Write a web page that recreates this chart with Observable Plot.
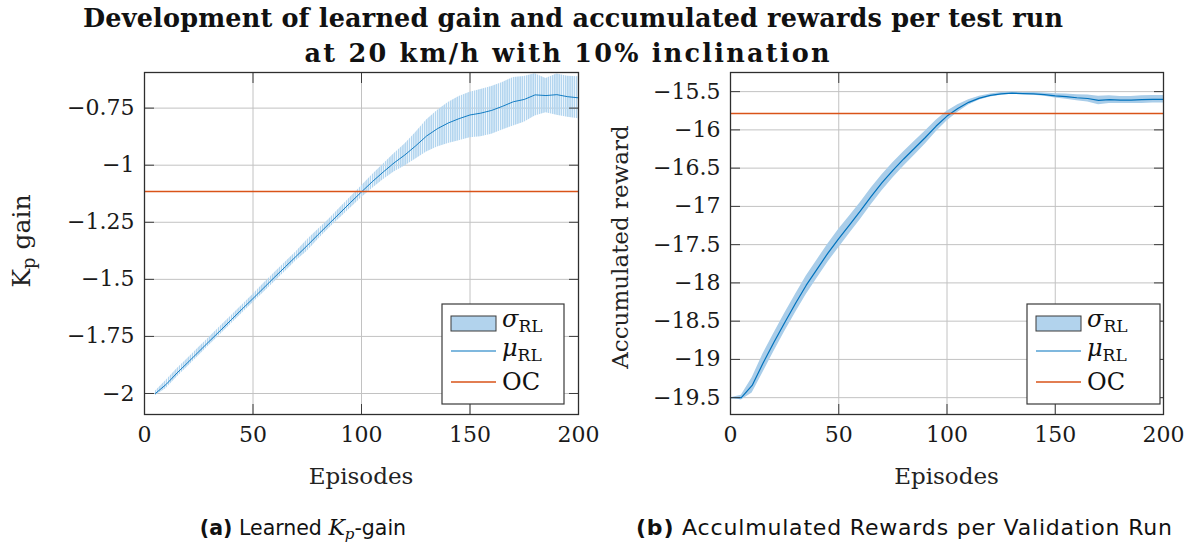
<!DOCTYPE html>
<html>
<head>
<meta charset="utf-8">
<script src="https://cdn.jsdelivr.net/npm/d3@7"></script>
<script src="https://cdn.jsdelivr.net/npm/@observablehq/plot@0.6"></script>
<style>
  html, body { margin: 0; padding: 0; background: #fff; }
  #wrap { position: relative; width: 1195px; height: 550px; background: #fff; overflow: hidden; }
  #pa, #pb, #text { position: absolute; top: 0; }
  #pa { left: 0; }
  #pb { left: 595px; }
  #text { left: 0; pointer-events: none; }
</style>
</head>
<body>
<div id="wrap">
  <div id="pa"></div>
  <div id="pb"></div>
  <svg id="text" width="1195" height="550"></svg>
</div>
<script>
// ---- data -------------------------------------------------------------
const xTicks = [0, 50, 100, 150, 200];

// (a) learned Kp gain per episode: mean and standard deviation over runs
const kpEpisodes = [5, 10, 15, 20, 25, 30, 35, 40, 45, 50, 55, 60, 65, 70, 75, 80, 85, 90, 95, 100,
  105, 110, 115, 120, 125, 130, 135, 140, 145, 150, 155, 160, 165, 170, 175, 180, 185, 190, 195, 200];
const kpMean = [-2.0, -1.96, -1.91, -1.864, -1.817, -1.77, -1.724, -1.677, -1.63, -1.584,
  -1.537, -1.49, -1.444, -1.398, -1.352, -1.304, -1.257, -1.21, -1.163, -1.117,
  -1.072, -1.03, -0.99, -0.955, -0.915, -0.872, -0.84, -0.815, -0.796, -0.78,
  -0.772, -0.76, -0.742, -0.722, -0.712, -0.692, -0.695, -0.691, -0.7, -0.705];
const kpStd = [0.01, 0.018, 0.018, 0.018, 0.018, 0.018, 0.018, 0.018, 0.018, 0.018,
  0.02, 0.02, 0.02, 0.02, 0.025, 0.022, 0.02, 0.022, 0.024, 0.026,
  0.03, 0.034, 0.04, 0.048, 0.058, 0.07, 0.08, 0.09, 0.097, 0.1,
  0.103, 0.105, 0.104, 0.106, 0.1, 0.092, 0.075, 0.09, 0.09, 0.092];
const kpOC = -1.115;
const kpTicks = [-2, -1.75, -1.5, -1.25, -1, -0.75];

// (b) accumulated reward per validation run
const rwEpisodes = [0, 5, 10, 15, 20, 25, 30, 35, 40, 45, 50, 55, 60, 65, 70, 75, 80, 85, 90, 95, 100,
  105, 110, 115, 120, 125, 130, 135, 140, 145, 150, 155, 160, 165, 170, 175, 180, 185, 190, 195, 200];
const rwMean = [-19.5, -19.5, -19.34, -19.05, -18.78, -18.52, -18.27, -18.03, -17.82, -17.61, -17.42,
  -17.24, -17.06, -16.87, -16.69, -16.53, -16.38, -16.24, -16.1, -15.95, -15.82,
  -15.72, -15.64, -15.585, -15.55, -15.53, -15.52, -15.525, -15.53, -15.54, -15.555,
  -15.565, -15.58, -15.59, -15.615, -15.605, -15.61, -15.61, -15.605, -15.6, -15.6];
const rwStd = [0, 0.03, 0.1, 0.12, 0.12, 0.12, 0.12, 0.12, 0.12, 0.12, 0.12,
  0.115, 0.11, 0.11, 0.105, 0.1, 0.095, 0.09, 0.085, 0.075, 0.065,
  0.05, 0.035, 0.025, 0.02, 0.018, 0.015, 0.015, 0.018, 0.022, 0.028,
  0.035, 0.04, 0.045, 0.055, 0.05, 0.045, 0.045, 0.05, 0.05, 0.05];
const rwOC = -15.785;
const rwTicks = [-19.5, -19, -18.5, -18, -17.5, -17, -16.5, -16, -15.5];

// ---- styling ----------------------------------------------------------
const BLUE = "#0072BD";
const ORANGE = "#D95319";
const BAND = "#a9cde9";
const GRID = "#c2c2c2";
const AXIS = "#3c3c3c";
const SERIF = "'DejaVu Serif', serif";
const fmt = d => String(d).replace("-", "\u2212");

function rows(ep, mean, std) {
  return ep.map((e, i) => ({ episode: e, mean: mean[i], lo: mean[i] - std[i], hi: mean[i] + std[i] }));
}

function panel({ data, oc, yDomain, yTicks, width, marginLeft, marginRight, bandFill, lineWidth }) {
  const txt = { fontFamily: SERIF, fontSize: 22, fill: "#1a1a1a" };
  return Plot.plot({
    width, height: 500,
    marginTop: 72, marginBottom: 86, marginLeft, marginRight,
    style: { fontFamily: SERIF, background: "transparent", overflow: "visible" },
    x: { domain: [0, 200], label: null },
    y: { domain: yDomain, label: null },
    marks: [
      Plot.gridX(xTicks, { stroke: GRID, strokeOpacity: 1, strokeWidth: 1 }),
      Plot.gridY(yTicks, { stroke: GRID, strokeOpacity: 1, strokeWidth: 1 }),
      Plot.areaY(data, { x: "episode", y1: "lo", y2: "hi", fill: bandFill, fillOpacity: 1 }),
      Plot.line(data, { x: "episode", y: "mean", stroke: BLUE, strokeWidth: lineWidth }),
      Plot.ruleY([oc], { stroke: ORANGE, strokeWidth: 1.4 }),
      Plot.axisX(xTicks, { anchor: "bottom", tickSize: -10, tickPadding: 22, tickFormat: fmt, label: null, stroke: AXIS, ...txt }),
      Plot.axisX(xTicks, { anchor: "top", tickSize: -10, fill: "none", label: null, stroke: AXIS }),
      Plot.axisY(yTicks, { anchor: "left", tickSize: -10, tickPadding: 20, tickFormat: fmt, label: null, stroke: AXIS, ...txt }),
      Plot.axisY(yTicks, { anchor: "right", tickSize: -10, fill: "none", label: null, stroke: AXIS }),
      Plot.frame({ stroke: "#2e2e2e", strokeWidth: 1.3 })
    ]
  });
}

// ---- panel (a) --------------------------------------------------------
const svgA = panel({
  data: rows(kpEpisodes, kpMean, kpStd), oc: kpOC,
  yDomain: [-2.092, -0.594], yTicks: kpTicks,
  width: 595, marginLeft: 144, marginRight: 17,
  bandFill: "url(#kp-hatch)", lineWidth: 0.9
});
// vertical hatching for the spread band, one stripe per episode
{
  const stripe = (595 - 144 - 17) / 200;
  const pat = d3.select(svgA).insert("defs", ":first-child").append("pattern")
    .attr("id", "kp-hatch").attr("patternUnits", "userSpaceOnUse")
    .attr("x", 144).attr("width", stripe).attr("height", 20);
  pat.append("rect").attr("width", stripe * 0.72).attr("height", 20).attr("fill", "#b3d5ef");
}
document.getElementById("pa").append(svgA);

// ---- panel (b) --------------------------------------------------------
const svgB = panel({
  data: rows(rwEpisodes, rwMean, rwStd), oc: rwOC,
  yDomain: [-19.72, -15.25], yTicks: rwTicks,
  width: 600, marginLeft: 135, marginRight: 32,
  bandFill: BAND, lineWidth: 1.2
});
document.getElementById("pb").append(svgB);

// ---- axis labels and legends -----------------------------------------
function legend(svg, x0, x1) {
  const g = d3.select(svg).append("g").attr("text-anchor", "start");
  g.append("rect").attr("x", x0).attr("y", 304).attr("width", x1 - x0).attr("height", 100)
    .attr("fill", "#fff").attr("stroke", "#3a3a3a").attr("stroke-width", 1.2);
  const sx = x0 + 9, sw = 45, tx = sx + sw + 6;
  g.append("rect").attr("x", sx).attr("y", 316).attr("width", sw).attr("height", 15)
    .attr("fill", "#b2d3ed").attr("stroke", "#3a3a3a").attr("stroke-width", 1);
  g.append("line").attr("x1", sx).attr("x2", sx + sw).attr("y1", 351).attr("y2", 351)
    .attr("stroke", BLUE).attr("stroke-width", 1.2);
  g.append("line").attr("x1", sx).attr("x2", sx + sw).attr("y1", 382).attr("y2", 382)
    .attr("stroke", ORANGE).attr("stroke-width", 1.3);
  const entry = (y, sym) => {
    const t = g.append("text").attr("x", tx).attr("y", y)
      .attr("font-family", SERIF).attr("font-size", 24).attr("fill", "#111");
    t.append("tspan").attr("font-style", "italic").text(sym);
    t.append("tspan").attr("font-size", 17).attr("dy", 5).text("RL");
  };
  entry(327, "\u03C3");
  entry(356, "\u03BC");
  g.append("text").attr("x", tx).attr("y", 390)
    .attr("font-family", SERIF).attr("font-size", 24).attr("fill", "#111").text("OC");
}

function xLabel(svg, cx) {
  d3.select(svg).append("text").attr("x", cx).attr("y", 484).attr("text-anchor", "middle")
    .attr("font-family", SERIF).attr("font-size", 23).attr("fill", "#222").text("Episodes");
}

legend(svgA, 442, 564);
xLabel(svgA, 361);
{
  const t = d3.select(svgA).append("text")
    .attr("transform", "translate(30,241) rotate(-90)").attr("text-anchor", "middle")
    .attr("font-family", SERIF).attr("font-size", 25).attr("fill", "#222");
  t.append("tspan").text("K");
  t.append("tspan").attr("font-size", 18).attr("dy", 5).text("p");
  t.append("tspan").attr("dy", -5).text(" gain");
}

legend(svgB, 432, 565);
xLabel(svgB, 351.5);
d3.select(svgB).append("text")
  .attr("transform", "translate(33,247) rotate(-90)").attr("text-anchor", "middle")
  .attr("font-family", SERIF).attr("font-size", 23).attr("fill", "#222").text("Accumulated reward");

// ---- title and sub-figure captions -----------------------------------
const page = d3.select("#text");
const title = page.append("text").attr("text-anchor", "middle")
  .attr("font-family", SERIF).attr("font-weight", "bold").attr("font-size", 25.5).attr("fill", "#111");
title.append("tspan").attr("x", 573).attr("y", 27).attr("textLength", 980).attr("lengthAdjust", "spacing")
  .text("Development of learned gain and accumulated rewards per test run");
title.append("tspan").attr("x", 567).attr("y", 62).attr("textLength", 525).attr("lengthAdjust", "spacing")
  .text("at 20 km/h with 10% inclination");

const SANS = "'DejaVu Sans', sans-serif";
function caption(cx, tag, parts, size, len) {
  const t = page.append("text").attr("x", cx).attr("y", 535).attr("text-anchor", "middle")
    .attr("font-family", SANS).attr("font-size", size).attr("fill", "#111");
  if (len) t.attr("textLength", len).attr("lengthAdjust", "spacing");
  t.append("tspan").attr("font-weight", "bold").text(tag);
  parts(t);
}
caption(303, "(a)", t => {
  t.append("tspan").text(" Learned ");
  t.append("tspan").attr("font-family", SERIF).attr("font-style", "italic").attr("font-size", 22).text("K");
  t.append("tspan").attr("font-family", SERIF).attr("font-style", "italic").attr("font-size", 15).attr("dy", 4).text("p");
  t.append("tspan").attr("dy", -4).text("-gain");
}, 20.5);
caption(904, "(b)", t => {
  t.append("tspan").text(" Acculmulated Rewards per Validation Run");
}, 22, 536);
</script>
</body>
</html>
